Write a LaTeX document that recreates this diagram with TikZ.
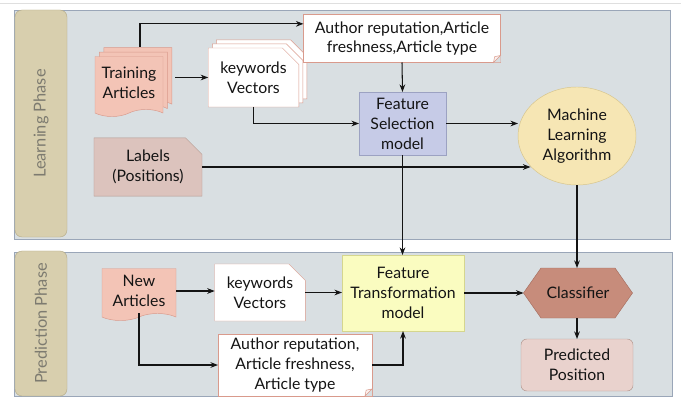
\documentclass[tikz,border=0pt]{standalone}
\usepackage{fontspec}
\setmainfont{Lato}
\usetikzlibrary{arrows.meta,calc,positioning,shapes.geometric,shapes.misc,shapes.symbols,shadows}
\definecolor{panelbg}{HTML}{D9DFE2}
\definecolor{panelline}{HTML}{9AA6B8}
\definecolor{phasebg}{HTML}{D8CFAE}
\definecolor{phaseline}{HTML}{B5AB88}
\definecolor{phasetext}{HTML}{7D7B70}
\definecolor{docbg}{HTML}{F3C4B6}
\definecolor{docline}{HTML}{D99A8C}
\definecolor{labelbg}{HTML}{DCC3BD}
\definecolor{labelline}{HTML}{B39890}
\definecolor{selbg}{HTML}{C6CBE7}
\definecolor{selline}{HTML}{9CA2C2}
\definecolor{algobg}{HTML}{F6E6B4}
\definecolor{algoline}{HTML}{D6C48C}
\definecolor{transbg}{HTML}{FAFCC0}
\definecolor{transline}{HTML}{D5D68E}
\definecolor{classbg}{HTML}{C78C7B}
\definecolor{classline}{HTML}{A66E5F}
\definecolor{predbg}{HTML}{E9D2CD}
\definecolor{textdark}{HTML}{141414}
\tikzset{
       arr/.style = {-{Stealth[length=6.5pt]}, line width=0.9pt, textdark},   % <--- arrow heads
      base/.style = {draw, thin, outer sep=0pt, align=center, text=textdark,
                     font=\fontsize{13.5}{17}\selectfont},
     phase/.style = {draw=phaseline, fill=phasebg, rounded corners=6pt, rotate=90,
                     text=phasetext, font=\fontsize{14}{16}\selectfont},
     panel/.style = {draw=panelline, fill=panelbg},
       doc/.style = {base, shape=tape, tape bend top=none, tape bend bottom=in and out,
                     tape bend height=6pt, draw=docline, fill=docbg},
  docstack/.style = {doc, double copy shadow={shadow xshift=3.8pt, shadow yshift=3.8pt,
                     draw=docline, fill=docbg}},
    vecbox/.style = {base, chamfered rectangle, chamfered rectangle corners=north east,
                     chamfered rectangle sep=7pt, draw=docline, fill=white},
  vecstack/.style = {vecbox, double copy shadow={shadow xshift=3.5pt, shadow yshift=3.5pt,
                     draw=docline, fill=white}},
   notebox/.style = {base, rectangle, draw=docline, fill=white},
      fold/.style = {draw=docline, fill=docbg!25, thin},
     model/.style = {base, rectangle},
      algo/.style = {base, ellipse, draw=algoline, fill=algobg},
  classbox/.style = {base, signal, signal to=east and west, signal pointer angle=110,
                     draw=classline, fill=classbg},
    result/.style = {base, rectangle, rounded corners=5pt, draw=labelline, fill=predbg},
}

\begin{document}
\begin{tikzpicture}[x=0.03cm, y=-0.03cm]
\useasboundingbox (0,0) rectangle (681,401);
\draw[gray!25] (0,3) -- (681,3);

% the two phases
\draw[panel] (14,10) rectangle (670,239);
\draw[panel] (14,252) rectangle (672,396);
\node[phase, minimum width=6.81cm, minimum height=1.56cm] (learn) at (41,123.5) {Learning Phase};
\node[phase, minimum width=4.35cm, minimum height=1.56cm] (predict) at (41,323.5) {Prediction Phase};

% learning phase
\node[docstack, minimum width=2.04cm, minimum height=1.8cm] (train) at (129,83) {Training\\Articles};
\node[vecstack, minimum width=2.61cm, minimum height=1.77cm] (kw1) at (253.5,77.5) {keywords\\Vectors};
\node[notebox, minimum width=5.91cm, minimum height=1.44cm] (auth1) at (402,38.5) {Author reputation,Article\\freshness,Article type};
\node[model, draw=selline, fill=selbg, minimum width=2.61cm, minimum height=1.89cm] (fsel) at (402.5,123.5) {Feature\\Selection\\model};
\node[algo, minimum width=3.54cm, minimum height=2.94cm] (mla) at (577,136) {Machine\\Learning\\Algorithm};
\node[vecbox, draw=labelline, fill=labelbg, minimum width=3.24cm, minimum height=1.5cm] (labels) at (148,167) {Labels\\(Positions)};

% prediction phase
\node[doc, minimum width=2.22cm, minimum height=1.56cm] (newart) at (139,291) {New\\Articles};
\node[vecbox, minimum width=2.58cm, minimum height=1.71cm] (kw2) at (260,292.5) {keywords\\Vectors};
\node[notebox, minimum width=4.62cm, minimum height=1.68cm] (auth2) at (295,365) {Author reputation,\\Article freshness,\\Article type};
\node[model, draw=transline, fill=transbg, minimum width=3.66cm, minimum height=2.28cm] (ftr) at (403,293) {Feature\\Transformation\\model};
\node[classbox, minimum width=3.27cm, minimum height=1.5cm] (cls) at (578,293) {Classifier};
\node[result, minimum width=3.36cm, minimum height=1.56cm] (pred) at (577,365) {Predicted\\Position};

% folded corners
\foreach \n in {auth1,auth2}{
  \fill[panelbg] ([xshift=-6pt]\n.south east) -- (\n.south east) -- ([yshift=6pt]\n.south east) -- cycle;
  \filldraw[fold] ([xshift=-6pt]\n.south east) -- ([yshift=6pt]\n.south east)
                  -- ([xshift=-5pt,yshift=5pt]\n.south east) -- cycle;
}

% connectors
\draw[arr] ([xshift=0.33cm,yshift=0.3cm]train.north) |- ([yshift=0.44cm]auth1.west);
\draw[arr] ([xshift=0.36cm]train.east |- kw1.west) -- (kw1.west);
\draw[arr] (kw1.south) |- (fsel.west);
\draw[arr] (auth1.south) -- (fsel.north);
\draw[arr] (fsel.east) -- (fsel.east -| mla.west);
\draw[arr] (labels.east) -- (labels.east -| mla.213);
\draw[arr] (fsel.south) -- (fsel.south |- ftr.north);
\draw[arr] (mla.south) -- (mla.south |- cls.north);

\draw[arr] (newart.east) -- (newart.east -| kw2.west);
\draw[arr] (kw2.east) -- (kw2.east -| ftr.west);
\draw[arr] (newart.south) |- (auth2.west);
\draw[arr] (auth2.east) -| (ftr.south);
\draw[arr] (ftr.east) -- (ftr.east -| cls.west);
\draw[arr] (cls.south -| pred.north) -- (pred.north);
\end{tikzpicture}
\end{document}
